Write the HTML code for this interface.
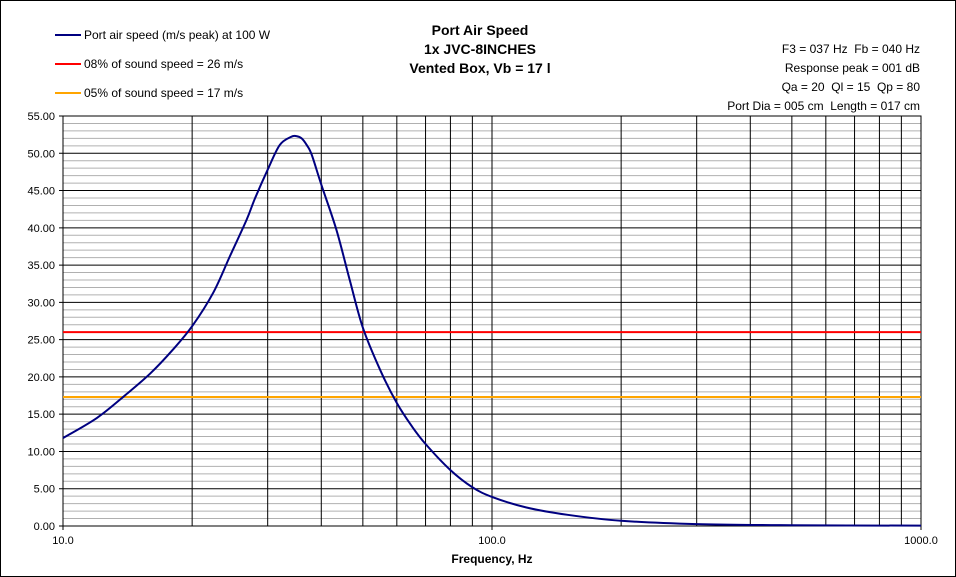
<!DOCTYPE html>
<html><head><meta charset="utf-8"><style>
body{margin:0;background:#fff}
svg{display:block;font-family:"Liberation Sans",Arial,sans-serif}
text{white-space:pre}
</style></head><body>
<svg id="c" width="956" height="577" viewBox="0 0 956 577">
<rect x="0.5" y="0.5" width="955" height="576" fill="#fff" stroke="#000"/>
<g id="grid"></g>
<g id="marks"></g>
<g font-size="14" font-weight="bold" text-anchor="middle" fill="#000">
<text x="480" y="35">Port Air Speed</text>
<text x="480" y="54">1x JVC-8INCHES</text>
<text x="480" y="73">Vented Box, Vb = 17 l</text>
</g>
<g font-size="12" text-anchor="end" fill="#000" xml:space="preserve">
<text x="920" y="53" xml:space="preserve">F3 = 037 Hz  Fb = 040 Hz</text>
<text x="920" y="72" xml:space="preserve">Response peak = 001 dB</text>
<text x="920" y="91" xml:space="preserve">Qa = 20  Ql = 15  Qp = 80</text>
<text x="920" y="110" xml:space="preserve">Port Dia = 005 cm  Length = 017 cm</text>
</g>
<g font-size="12" fill="#000">
<g><line x1="55" y1="35" x2="81" y2="35" stroke="#000080" stroke-width="2"/><text x="84" y="39">Port air speed (m/s peak) at 100 W</text></g>
<g><line x1="55" y1="64" x2="81" y2="64" stroke="#ff0000" stroke-width="2"/><text x="84" y="68">08% of sound speed = 26 m/s</text></g>
<g><line x1="55" y1="93" x2="81" y2="93" stroke="#ffa500" stroke-width="2"/><text x="84" y="97">05% of sound speed = 17 m/s</text></g>
</g>
<text x="492" y="563" font-size="12" font-weight="bold" text-anchor="middle">Frequency, Hz</text>
</svg>
<script>
const freqs=[10,12,14,16,18,20,22.4,24.5,26.8,28,30,32,34,35,36,37,38,40,43.4,46.6,50,55,60,65,70,80,90,100,120,150,200,300,500,1000];
const speeds=[11.8,14.5,17.6,20.5,23.6,26.8,31.3,36.2,41.1,43.9,47.8,51.1,52.2,52.3,52.0,51.1,49.8,45.8,39.7,33.0,26.6,20.8,16.5,13.4,11.0,7.5,5.2,3.9,2.5,1.5,0.7,0.25,0.1,0.05];
const limit8=[26];
const limit5=[17.3];
const yTicks=[0,5,10,15,20,25,30,35,40,45,50,55];
const xTickLabels=["10.0","100.0","1000.0"];
const L=63,R=921,T=116,B=526;
const NS="http://www.w3.org/2000/svg";
const X=f=>L+(R-L)*(Math.log10(f)-1)/2;
const Y=v=>B-(B-T)*v/55;
function mk(p,tag,a){const e=document.createElementNS(NS,tag);for(const k in a)e.setAttribute(k,a[k]);p.appendChild(e);return e;}
const g=document.getElementById('grid'),m=document.getElementById('marks');
for(let v=0;v<=55;v++){if(v%5)mk(g,'line',{x1:L,x2:R,y1:Y(v),y2:Y(v),stroke:'#b0b0b0','stroke-width':1});}
for(let d=10;d<1000;d*=10)for(let k=1;k<10;k++){const l=mk(g,'line',{x1:X(d*k),x2:X(d*k),y1:T,y2:B,stroke:'#000','stroke-width':1});

}
yTicks.forEach(v=>{const l=mk(g,'line',{x1:L-4,x2:R,y1:Y(v),y2:Y(v),stroke:'#000','stroke-width':1});


const t=mk(g,'text',{x:L-8,y:Y(v)+4,'font-size':11,'text-anchor':'end'});t.textContent=v.toFixed(2);

});
mk(g,'rect',{x:L,y:T,width:R-L,height:B-T,fill:'none',stroke:'#000'});
xTickLabels.forEach((s,i)=>{const f=Math.pow(10,i+1);mk(g,'line',{x1:X(f),x2:X(f),y1:B,y2:B+4,stroke:'#000'});
const t=mk(g,'text',{x:X(f),y:B+18,'font-size':11,'text-anchor':'middle'});t.textContent=s;

});
const h8=mk(m,'line',{x1:L,x2:R,y1:Y(limit8[0]),y2:Y(limit8[0]),stroke:'#ff0000','stroke-width':2});


const h5=mk(m,'line',{x1:L,x2:R,y1:Y(limit5[0]),y2:Y(limit5[0]),stroke:'#ffa500','stroke-width':2});


const pts=freqs.map((f,i)=>[X(f),Y(speeds[i])]);
let d='M'+pts[0][0]+','+pts[0][1];
for(let i=0;i<pts.length-1;i++){const p0=pts[Math.max(0,i-1)],p1=pts[i],p2=pts[i+1],p3=pts[Math.min(pts.length-1,i+2)];
d+=' C'+(p1[0]+(p2[0]-p0[0])/6)+','+(p1[1]+(p2[1]-p0[1])/6)+' '+(p2[0]-(p3[0]-p1[0])/6)+','+(p2[1]-(p3[1]-p1[1])/6)+' '+p2[0]+','+p2[1];}
const c=mk(m,'path',{d:d,fill:'none',stroke:'#000080','stroke-width':2});


</script>
</body></html>
